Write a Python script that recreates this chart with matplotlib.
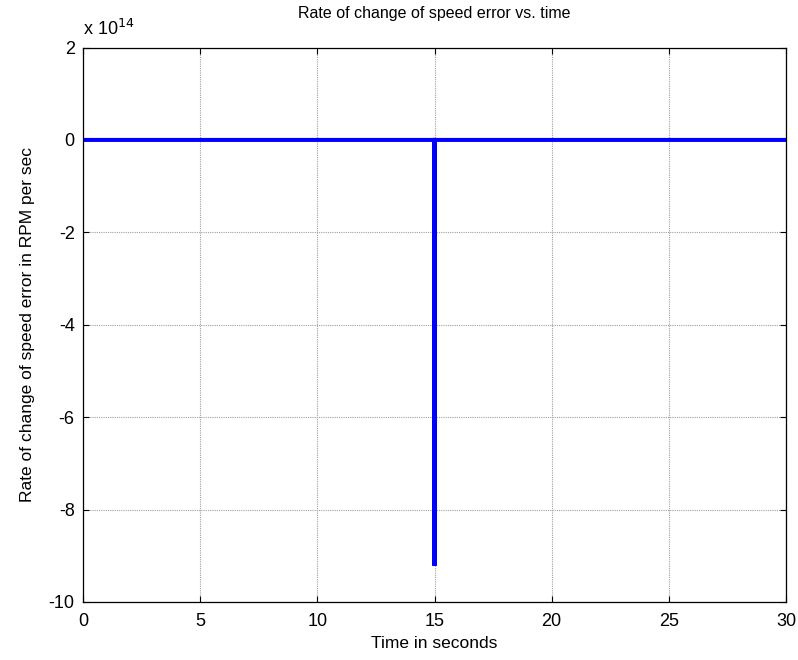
import matplotlib

matplotlib.use("Agg")
import matplotlib.pyplot as plt
from matplotlib.ticker import FuncFormatter

plt.rcParams["font.family"] = ["Liberation Sans", "DejaVu Sans"]

# speed error derivative (RPM/s): flat with a single spike at the 15 s step
time_s = [0.0, 14.99, 15.0, 15.01, 30.0]
rate_rpm_s = [0.0, 0.0, -9.22e14, 0.0, 0.0]
x_ticks = [0, 5, 10, 15, 20, 25, 30]
y_ticks = [-10e14, -8e14, -6e14, -4e14, -2e14, 0, 2e14]

fig = plt.figure(figsize=(7.98, 6.6), dpi=100)
ax = fig.add_axes([0.104, 0.088, 0.881, 0.840])

ax.plot(time_s, rate_rpm_s, color="#0000ff", lw=2.9, solid_joinstyle="miter")

ax.set_xlim(0, 30)
ax.set_ylim(-10e14, 2e14)
ax.set_xticks(x_ticks)
ax.set_yticks(y_ticks)
ax.yaxis.set_major_formatter(FuncFormatter(lambda v, _: f"{v / 1e14:g}"))
ax.grid(True, color="#a0a0a0", ls=(0, (1, 1)), lw=0.8)
ax.tick_params(direction="in", length=4, labelsize=13, top=True, right=True,
               width=0.8)
ax.tick_params(axis="x", pad=8)
ax.tick_params(axis="y", pad=6)
for s in ax.spines.values():
    s.set_linewidth(0.9)

ax.text(0.0, 1.015, "x 10$^{14}$", transform=ax.transAxes, fontsize=13,
        ha="left", va="bottom")
ax.set_title("Rate of change of speed error vs. time", fontsize=11.5, pad=21)
ax.set_xlabel("Time in seconds", fontsize=12.5, labelpad=4)
ax.set_ylabel("Rate of change of speed error in RPM per sec", fontsize=12.5,
              labelpad=10)

fig.savefig("out.png", dpi=100)
